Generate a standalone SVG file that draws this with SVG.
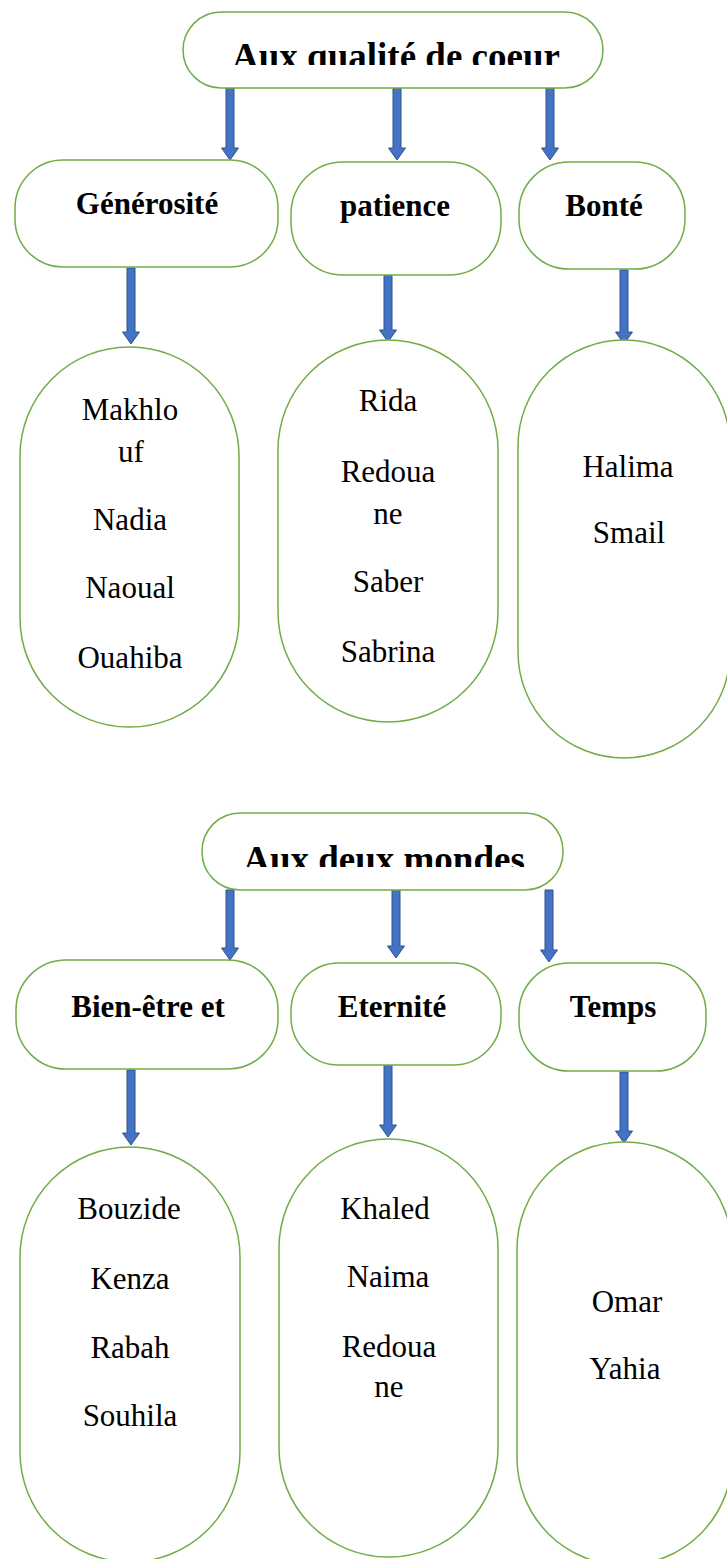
<svg xmlns="http://www.w3.org/2000/svg" width="727" height="1559" viewBox="0 0 727 1559">
<style>
.box{fill:#fff;stroke:#70AD47;stroke-width:1.5}
.arr{fill:#4472C4;stroke:#2F528F;stroke-width:1}
text{font-family:'Liberation Serif','Times New Roman',Times,'DejaVu Serif',serif;fill:#000;text-anchor:middle}
.title{font-weight:bold;font-size:37px}
.lbl{font-weight:bold;font-size:31px}
.name{font-size:31px}
</style>
<defs>
<clipPath id="c1"><rect x="183" y="12" width="420" height="53"/></clipPath>
<clipPath id="c2"><rect x="202" y="813" width="361" height="54"/></clipPath>
</defs>
<rect width="727" height="1559" fill="#fff"/>

<g id="connectors">
<polygon class="arr" points="226,88 234,88 234,148 238.5,148 230,160 221.5,148 226,148"/>
<polygon class="arr" points="393,88 401,88 401,148 405.5,148 397,160 388.5,148 393,148"/>
<polygon class="arr" points="546,88 554,88 554,148 558.5,148 550,160 541.5,148 546,148"/>
<polygon class="arr" points="127,268 135,268 135,332 139.5,332 131,344 122.5,332 127,332"/>
<polygon class="arr" points="384,275 392,275 392,330 396.5,330 388,342 379.5,330 384,330"/>
<polygon class="arr" points="620,270 628,270 628,332 632.5,332 624,344 615.5,332 620,332"/>
<polygon class="arr" points="226,890 234,890 234,948 238.5,948 230,960 221.5,948 226,948"/>
<polygon class="arr" points="392,890 400,890 400,946 404.5,946 396,958 387.5,946 392,946"/>
<polygon class="arr" points="545,890 553,890 553,950 557.5,950 549,962 540.5,950 545,950"/>
<polygon class="arr" points="127,1070 135,1070 135,1133 139.5,1133 131,1145 122.5,1133 127,1133"/>
<polygon class="arr" points="384,1065 392,1065 392,1125 396.5,1125 388,1137 379.5,1125 384,1125"/>
<polygon class="arr" points="620,1072 628,1072 628,1131 632.5,1131 624,1143 615.5,1131 620,1131"/>
</g>

<g id="n-qualite">
<rect class="box" x="183" y="12" width="420" height="76" rx="38"/>
<text class="title" x="396" y="69" clip-path="url(#c1)">Aux qualité de coeur</text>
</g>
<g id="n-generosite">
<rect class="box" x="15" y="160" width="263" height="107" rx="48"/>
<text class="lbl" x="147" y="214">Générosité</text>
</g>
<g id="n-patience">
<rect class="box" x="291" y="162" width="210" height="113" rx="52"/>
<text class="lbl" x="395" y="216">patience</text>
</g>
<g id="n-bonte">
<rect class="box" x="519" y="162" width="166" height="107" rx="50"/>
<text class="lbl" x="604" y="216">Bonté</text>
</g>
<g id="n-list1">
<rect class="box" x="20" y="347" width="219" height="380" rx="109"/>
<text class="name" x="130" y="420">Makhlo</text>
<text class="name" x="131" y="462">uf</text>
<text class="name" x="130" y="530">Nadia</text>
<text class="name" x="130" y="598">Naoual</text>
<text class="name" x="130" y="668">Ouahiba</text>
</g>
<g id="n-list2">
<rect class="box" x="278" y="340" width="220" height="382" rx="110"/>
<text class="name" x="388" y="411">Rida</text>
<text class="name" x="388" y="482">Redoua</text>
<text class="name" x="388" y="524">ne</text>
<text class="name" x="388" y="592">Saber</text>
<text class="name" x="388" y="662">Sabrina</text>
</g>
<g id="n-list3">
<rect class="box" x="518" y="340" width="212" height="418" rx="106"/>
<text class="name" x="628" y="477">Halima</text>
<text class="name" x="629" y="543">Smail</text>
</g>

<g id="n-mondes">
<rect class="box" x="202" y="813" width="361" height="77" rx="38"/>
<text class="title" x="384" y="872" clip-path="url(#c2)">Aux deux mondes</text>
</g>
<g id="n-bienetre">
<rect class="box" x="16" y="960" width="262" height="109" rx="50"/>
<text class="lbl" x="148" y="1017">Bien-être et</text>
</g>
<g id="n-eternite">
<rect class="box" x="291" y="963" width="210" height="102" rx="48"/>
<text class="lbl" x="392" y="1017">Eternité</text>
</g>
<g id="n-temps">
<rect class="box" x="519" y="963" width="187" height="108" rx="50"/>
<text class="lbl" x="613" y="1017">Temps</text>
</g>
<g id="n-list4">
<rect class="box" x="20" y="1147" width="220" height="415" rx="110"/>
<text class="name" x="129" y="1219">Bouzide</text>
<text class="name" x="130" y="1289">Kenza</text>
<text class="name" x="130" y="1358">Rabah</text>
<text class="name" x="130" y="1426">Souhila</text>
</g>
<g id="n-list5">
<rect class="box" x="279" y="1139" width="219" height="418" rx="109"/>
<text class="name" x="385" y="1219">Khaled</text>
<text class="name" x="388" y="1287">Naima</text>
<text class="name" x="389" y="1357">Redoua</text>
<text class="name" x="389" y="1397">ne</text>
</g>
<g id="n-list6">
<rect class="box" x="517" y="1142" width="215" height="423" rx="107"/>
<text class="name" x="627" y="1312">Omar</text>
<text class="name" x="625" y="1379">Yahia</text>
</g>
</svg>
